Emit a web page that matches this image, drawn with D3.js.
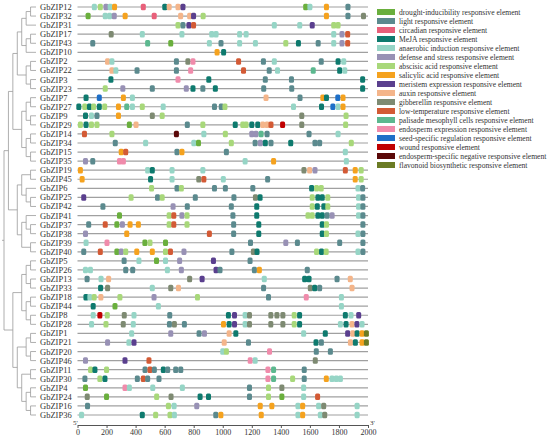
<!DOCTYPE html>
<html>
<head>
<meta charset="utf-8">
<script src="https://cdn.jsdelivr.net/npm/d3@7"></script>
<style>
  body { margin: 0; background: #fff; }
  text { font-family: "Liberation Serif", "Times New Roman", serif; }
</style>
</head>
<body>
<div id="chart"></div>
<script>
// gene order, top to bottom
var genes = ["GbZIP12","GbZIP32","GbZIP31","GbZIP17","GbZIP43","GbZIP10","GbZIP2","GbZIP22",
  "GbZIP3","GbZIP23","GbZIP7","GbZIP27","GbZIP9","GbZIP29","GbZIP14","GbZIP34","GbZIP15",
  "GbZIP35","GbZIP19","GbZIP45","GbZIP6","GbZIP25","GbZIP42","GbZIP41","GbZIP37","GbZIP38",
  "GbZIP39","GbZIP40","GbZIP5","GbZIP26","GbZIP13","GbZIP33","GbZIP18","GbZIP44","GbZIP8",
  "GbZIP28","GbZIP1","GbZIP21","GbZIP20","GbZIP46","GbZIP11","GbZIP30","GbZIP4","GbZIP24",
  "GbZIP16","GbZIP36"];

// element types (legend order) and their codes
var elementCodes = ["D","L","C","M","A","S","B","Y","E","X","G","T","P","N","R","W","K","F"];
var elementNames = [
  "drought-inducibility responsive element",
  "light responsive element",
  "circadian responsive element",
  "MeJA responsive element",
  "anaerobic induction responsive element",
  "defense and stress responsive element",
  "abscisic acid responsive element",
  "salicylic acid responsive element",
  "meristem expression responsive element",
  "auxin responsive element",
  "gibberellin responsive element",
  "low-temperature responsive element",
  "palisade mesophyll cells responsive element",
  "endosperm expression responsive element",
  "seed-specific regulation responsive element",
  "wound responsive element",
  "endosperm-specific negative responsive element",
  "flavonoid biosynthetic responsive element"];
var elementColors = ["#6aaf3d","#5b8a8e","#e8607a","#0e7a6e","#96d5c6","#9891b5","#a8d87a",
  "#f5a21e","#5a3f8e","#f4b58a","#7e8a72","#d35a35","#5cb88f","#f08bab","#1e6fc8","#c00000",
  "#5a0808","#6b7b24"];

// cis-element sites per gene: [position (bp), element code]
var sites = [
  [[116,"A"],[157,"B"],[196,"S"],[225,"A"],[255,"Y"],[453,"C"],[601,"M"],[631,"X"],[692,"X"],[726,"E"],[1571,"D"],[1600,"A"],[1714,"Y"],[1862,"L"]],
  [[73,"D"],[191,"A"],[221,"A"],[253,"S"],[328,"Y"],[528,"C"],[710,"X"],[772,"X"],[799,"E"],[865,"B"],[1714,"Y"],[1862,"L"],[1969,"G"]],
  [[692,"B"],[726,"L"],[767,"E"],[799,"T"],[1355,"A"],[1530,"A"],[1616,"E"],[1764,"B"],[1794,"B"]],
  [[232,"G"],[446,"A"],[719,"A"],[924,"A"],[954,"A"],[1116,"A"],[1161,"A"],[1764,"A"],[1821,"S"],[1860,"T"]],
  [[105,"L"],[483,"P"],[642,"D"],[908,"A"],[988,"L"],[1116,"A"],[1225,"A"],[1434,"B"],[1521,"M"],[1657,"L"],[1764,"A"],[1821,"S"],[1860,"T"]],
  [[961,"Y"],[1006,"M"]],
  [[207,"X"],[237,"A"],[681,"L"],[760,"G"],[795,"N"],[1109,"T"],[1280,"L"],[1355,"A"],[1678,"L"],[1794,"M"],[1833,"A"]],
  [[237,"X"],[264,"A"],[410,"L"],[681,"L"],[779,"N"],[1143,"T"],[1320,"L"],[1377,"A"],[1623,"P"],[1805,"M"],[1840,"A"]],
  [[230,"M"],[692,"N"],[904,"M"],[1293,"L"],[1473,"L"],[1963,"M"]],
  [[191,"B"],[312,"S"],[515,"L"],[749,"S"],[795,"M"],[863,"L"],[949,"M"],[1282,"L"],[1475,"L"],[1963,"M"]],
  [[59,"M"],[150,"R"],[316,"Y"],[378,"A"],[1298,"X"],[1532,"L"],[1689,"Y"],[1714,"M"],[1792,"R"],[1828,"Y"]],
  [[9,"M"],[50,"B"],[82,"M"],[111,"B"],[150,"M"],[187,"B"],[282,"Y"],[339,"P"],[378,"A"],[446,"B"],[590,"A"],[943,"L"],[990,"L"],[1015,"B"],[1487,"A"],[1680,"M"],[1758,"R"],[1794,"A"],[1828,"Y"]],
  [[55,"M"],[96,"A"],[134,"L"],[282,"Y"],[515,"G"],[583,"B"],[1544,"G"],[1849,"B"]],
  [[20,"B"],[59,"M"],[96,"B"],[134,"B"],[357,"D"],[403,"X"],[756,"L"],[863,"B"],[1086,"M"],[1138,"B"],[1161,"B"],[1200,"M"],[1241,"M"],[1275,"X"],[1305,"X"],[1332,"T"],[1412,"W"],[1544,"G"],[1846,"B"]],
  [[48,"T"],[237,"B"],[681,"K"],[870,"A"],[1018,"B"],[1200,"S"],[1229,"S"],[1264,"P"],[1305,"L"],[1594,"L"],[1794,"A"]],
  [[260,"L"],[469,"A"],[801,"A"],[833,"D"],[1059,"B"],[1223,"L"],[1259,"S"],[1293,"M"],[1332,"L"],[1468,"M"],[1635,"L"],[1667,"L"],[1885,"B"]],
  [[301,"Y"],[332,"T"],[685,"L"],[719,"Y"],[1025,"L"],[1844,"A"]],
  [[55,"S"],[105,"L"],[289,"N"],[316,"N"],[1154,"A"],[1350,"Y"],[1851,"A"]],
  [[20,"Y"],[483,"A"],[515,"M"],[651,"A"],[863,"A"],[1559,"G"],[1598,"X"],[1635,"S"],[1844,"T"],[1912,"Y"],[1953,"B"]],
  [[32,"Y"],[503,"M"],[651,"A"],[835,"G"],[870,"T"],[1004,"A"],[1309,"L"],[1912,"Y"],[1953,"B"]],
  [[510,"B"],[685,"L"],[715,"B"],[943,"L"],[1018,"L"],[1207,"L"],[1612,"M"],[1646,"B"],[1678,"B"],[1931,"A"],[1963,"L"]],
  [[43,"E"],[369,"B"],[551,"L"],[583,"B"],[811,"L"],[1077,"L"],[1225,"G"],[1257,"M"],[1616,"B"],[1655,"M"],[1685,"M"],[1723,"B"],[1935,"A"],[1965,"L"]],
  [[175,"L"],[658,"S"],[756,"L"],[1059,"L"],[1234,"M"],[1616,"B"],[1651,"M"],[1696,"M"],[1723,"B"],[1935,"A"],[1965,"L"]],
  [[289,"D"],[631,"B"],[663,"T"],[719,"S"],[754,"B"],[1070,"L"],[1234,"M"],[1587,"B"],[1616,"B"],[1655,"M"],[1685,"M"],[1719,"L"],[1753,"S"],[1935,"A"],[1965,"L"]],
  [[77,"L"],[191,"T"],[271,"D"],[309,"S"],[362,"Y"],[419,"Y"],[631,"B"],[663,"T"],[754,"B"],[1075,"L"],[1248,"M"],[1685,"M"],[1714,"B"],[1965,"L"]],
  [[55,"S"],[339,"Y"],[908,"T"],[1075,"L"],[1248,"M"],[1685,"M"],[1714,"B"],[1931,"A"],[1965,"L"]],
  [[59,"A"],[203,"N"],[464,"D"],[499,"B"],[606,"D"],[1191,"L"],[1434,"S"],[1514,"L"],[1805,"L"],[1965,"L"]],
  [[43,"L"],[157,"T"],[271,"D"],[301,"S"],[332,"B"],[408,"Y"],[515,"Y"],[606,"B"],[640,"T"],[733,"S"],[1063,"L"],[1211,"G"],[1236,"M"],[1646,"B"],[1680,"M"],[1712,"B"],[1931,"A"],[1965,"L"]],
  [[321,"L"],[423,"A"],[544,"D"],[606,"A"],[703,"S"],[936,"E"],[1188,"L"]],
  [[55,"A"],[89,"A"],[332,"L"],[380,"L"],[619,"A"],[715,"S"],[954,"E"],[981,"L"],[1218,"L"],[1252,"Y"],[1582,"L"]],
  [[66,"L"],[162,"A"],[214,"X"],[772,"G"],[858,"E"],[1286,"A"],[1564,"M"],[1594,"M"],[1787,"L"],[1878,"X"]],
  [[159,"M"],[207,"G"],[515,"A"],[642,"G"],[695,"X"],[1281,"L"],[1603,"G"],[1633,"M"],[1667,"L"],[1890,"X"]],
  [[58,"M"],[85,"A"],[115,"B"],[161,"X"],[292,"B"],[527,"S"],[826,"B"],[1315,"L"],[1575,"N"],[1817,"A"]],
  [[108,"M"],[258,"D"],[557,"A"],[1817,"A"]],
  [[108,"A"],[154,"W"],[205,"B"],[322,"G"],[389,"A"],[635,"L"],[1039,"M"],[1081,"E"],[1154,"A"],[1184,"G"],[1331,"G"],[1373,"G"],[1414,"G"],[1492,"B"],[1529,"M"],[1844,"M"],[1883,"A"],[1936,"E"]],
  [[97,"A"],[196,"B"],[315,"G"],[384,"A"],[633,"L"],[667,"G"],[736,"L"],[1005,"Y"],[1044,"M"],[1081,"E"],[1154,"A"],[1184,"G"],[1331,"G"],[1414,"G"],[1492,"B"],[1529,"M"],[1810,"A"],[1849,"M"],[1890,"X"],[1924,"E"],[1959,"A"]],
  [[373,"A"],[642,"S"],[837,"L"],[874,"S"],[1044,"X"],[1090,"M"],[1557,"A"],[1706,"M"],[1860,"E"],[1895,"X"],[1925,"M"],[1959,"Y"],[1989,"F"]],
  [[207,"S"],[354,"A"],[389,"E"],[1010,"X"],[1177,"L"],[1642,"M"],[1679,"L"],[1879,"X"],[1913,"M"],[1959,"Y"],[1989,"F"]],
  [[1000,"A"],[1025,"B"],[1322,"N"],[1644,"L"],[1741,"L"]],
  [[55,"S"],[327,"E"],[492,"T"],[1189,"N"],[1223,"A"],[1637,"G"]],
  [[90,"B"],[120,"M"],[200,"B"],[465,"L"],[499,"T"],[529,"L"],[591,"M"],[621,"L"],[676,"L"],[711,"L"],[1311,"N"],[1350,"P"],[1561,"L"]],
  [[51,"L"],[154,"B"],[189,"M"],[412,"L"],[453,"T"],[483,"L"],[561,"L"],[1311,"N"],[1350,"P"],[1481,"B"],[1561,"L"],[1713,"Y"],[1752,"A"],[1782,"A"],[1810,"A"]],
  [[55,"D"],[327,"N"],[357,"A"],[518,"A"],[722,"A"],[1184,"L"],[1315,"B"],[1407,"G"],[1557,"A"]],
  [[67,"G"],[200,"D"],[545,"B"],[644,"G"],[844,"M"],[902,"M"],[1184,"L"],[1315,"B"],[1407,"D"],[1557,"A"],[1653,"T"]],
  [[69,"L"],[626,"B"],[665,"A"],[821,"S"],[1258,"Y"],[1338,"Y"],[1518,"A"],[1550,"Y"],[1660,"A"],[1695,"G"],[1925,"A"]],
  [[28,"A"],[446,"M"],[538,"B"],[637,"B"],[667,"A"],[952,"L"],[987,"Y"],[1265,"Y"],[1518,"A"],[1550,"Y"],[1672,"A"],[1702,"G"],[1925,"A"]]
];

var axisTicks = [0,200,400,600,800,1000,1200,1400,1600,1800,2000];

// phylogeny as nested arrays
var tree = [
  [
    [
      [[[["GbZIP12","GbZIP32"],"GbZIP31"],[["GbZIP17","GbZIP43"],"GbZIP10"]],
       [["GbZIP2","GbZIP22"],["GbZIP3","GbZIP23"]]],
      [[["GbZIP7","GbZIP27"],["GbZIP9","GbZIP29"]],
       [["GbZIP14","GbZIP34"],["GbZIP15","GbZIP35"]]]
    ],
    [[["GbZIP19","GbZIP45"],["GbZIP6",["GbZIP25","GbZIP42"]]],
     [["GbZIP41",["GbZIP37","GbZIP38"]],["GbZIP39","GbZIP40"]]]
  ],
  [
    [[["GbZIP5","GbZIP26"],["GbZIP13","GbZIP33"]],
     [["GbZIP18","GbZIP44"],["GbZIP8","GbZIP28"]]],
    [[["GbZIP1","GbZIP21"],["GbZIP20","GbZIP46"]],
     [["GbZIP11","GbZIP30"],[["GbZIP4","GbZIP24"],["GbZIP16","GbZIP36"]]]]
  ]
];

var W = 550, H = 440;
var svg = d3.select("#chart").append("svg")
    .attr("width", W).attr("height", H);

var x = d3.scaleLinear().domain([0, 2000]).range([77.5, 368]);
var y = d3.scalePoint().domain(genes).range([7, 415]);
var color = d3.scaleOrdinal().domain(elementCodes).range(elementColors);

// --- tree ---
var root = d3.hierarchy(tree, function(d) { return Array.isArray(d) ? d : null; });
var tx = d3.scaleLinear().domain([root.height, 0]).range([4, 35]);
root.eachAfter(function(n) {
  n.px = tx(n.height);
  if (n.children) {
    n.py = (n.children[0].py + n.children[n.children.length - 1].py) / 2;
  } else {
    n.py = y(n.data);
    n.px = 36;
  }
});
var treeG = svg.append("g")
    .attr("fill", "none")
    .attr("stroke", "#9a9a9a")
    .attr("stroke-width", 0.8);
root.descendants().forEach(function(n) {
  if (n.children) {
    treeG.append("path")
      .attr("d", "M" + n.px + "," + n.children[0].py + "V" + n.children[n.children.length - 1].py);
    n.children.forEach(function(c) {
      treeG.append("path").attr("d", "M" + n.px + "," + c.py + "H" + c.px);
    });
  }
});
treeG.append("path").attr("d", "M" + (root.px - 2) + "," + root.py + "H" + root.px);

// --- gene labels ---
svg.append("g").selectAll("text")
  .data(genes)
  .enter().append("text")
    .attr("x", 40)
    .attr("y", function(d) { return y(d); })
    .attr("dy", "0.35em")
    .attr("font-size", "8.5px")
    .attr("fill", "#333")
    .text(function(d) { return d; });

// --- promoter backbones ---
svg.append("g").selectAll("line")
  .data(genes)
  .enter().append("line")
    .attr("x1", x(0)).attr("x2", x(2000))
    .attr("y1", function(d) { return y(d); })
    .attr("y2", function(d) { return y(d); })
    .attr("stroke", "#a0a0a0")
    .attr("stroke-width", 1.2);

// --- element boxes ---
var bw = 5, bh = 6.5;
svg.append("g").selectAll("g")
  .data(sites)
  .enter().append("g")
    .attr("transform", function(d, i) { return "translate(0," + y(genes[i]) + ")"; })
  .selectAll("rect")
  .data(function(d) { return d; })
  .enter().append("rect")
    .attr("x", function(d) { return x(d[0]) - bw / 2; })
    .attr("y", -bh / 2)
    .attr("width", bw).attr("height", bh)
    .attr("rx", 1.5)
    .attr("fill", function(d) { return color(d[1]); });

// --- axis ---
var axisY = 425;
var axis = svg.append("g")
    .attr("transform", "translate(0," + axisY + ")")
    .call(d3.axisBottom(x).tickValues(axisTicks).tickFormat(d3.format("d"))
      .tickSize(3).tickSizeOuter(0).tickPadding(1.5));
axis.selectAll("text")
    .attr("font-family", "Liberation Serif, serif")
    .attr("font-size", "8px")
    .attr("fill", "#333");
axis.selectAll("line, path").attr("stroke", "#555");

svg.append("text").attr("x", 73).attr("y", axisY - 0.5)
    .attr("font-size", "7px").attr("fill", "#333").text("5'");
svg.append("text").attr("x", 370).attr("y", axisY - 0.5)
    .attr("font-size", "7px").attr("fill", "#333").text("3'");

// --- legend ---
var legend = svg.append("g").selectAll("g")
  .data(elementNames)
  .enter().append("g")
    .attr("transform", function(d, i) { return "translate(377," + (12 + i * 9) + ")"; });
legend.append("rect")
    .attr("x", 0).attr("y", -3)
    .attr("width", 18).attr("height", 6)
    .attr("fill", function(d, i) { return elementColors[i]; });
legend.append("text")
    .attr("x", 22)
    .attr("dy", "0.35em")
    .attr("font-size", "7.6px")
    .attr("fill", "#333")
    .text(function(d) { return d; });
</script>
</body>
</html>
